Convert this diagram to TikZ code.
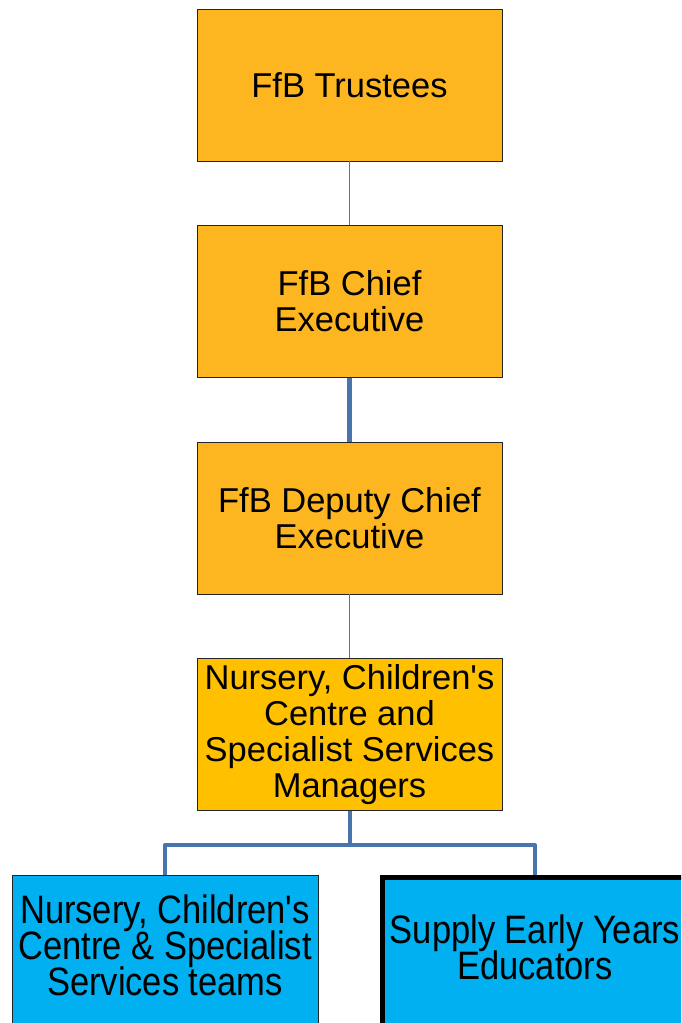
\documentclass[tikz,border=0pt]{standalone}
\usepackage{fontspec}
\newfontfamily\arialfont{Liberation Sans}
\definecolor{ffborange}{HTML}{FDB620}
\definecolor{ffbyellow}{HTML}{FFC000}
\definecolor{ffbblue}{HTML}{00B0F0}
\definecolor{linkblue}{HTML}{4A74AC}
\definecolor{linkgray}{HTML}{707070}
\begin{document}
\begin{tikzpicture}[x=1pt,y=-1pt,
  orgbox/.style={draw=black!85, line width=0.9pt, minimum width=305pt, minimum height=152pt,
    inner sep=0pt, align=center, font=\arialfont\fontsize{34.5}{36}\selectfont},
  thinlink/.style={draw=linkgray, line width=1.4pt},
  bluelink/.style={draw=linkblue, line width=4.5pt}
]
\useasboundingbox (0,0) rectangle (681,1023);
\clip (0,0) rectangle (681,1023);

\node[orgbox, fill=ffborange] (trustees) at (349.5,85) {FfB Trustees};
\node[orgbox, fill=ffborange] (chief) at (349.5,301.5) {FfB Chief\\Executive};
\node[orgbox, fill=ffborange] (deputy) at (349.5,518) {FfB Deputy Chief\\Executive};
\node[orgbox, fill=ffbyellow] (managers) at (349.5,734.5) {Nursery, Children's\\Centre and\\Specialist Services\\Managers};

\node[orgbox, fill=ffbblue, minimum width=306pt, minimum height=152pt] (teams) at (165,951)
  {\raisebox{-7pt}{\scalebox{1}[1.15]{\begin{tabular}{@{}c@{}}Nursery, Children's\\[-4.5pt]Centre \& Specialist\\[-4.5pt]Services teams\end{tabular}}}};
\node[orgbox, fill=ffbblue, draw=black, line width=5pt, minimum width=306pt, minimum height=152pt] (supply) at (535,953)
  {\raisebox{-4pt}{\scalebox{1}[1.15]{\begin{tabular}{@{}c@{}}Supply Early Years\\[-4.5pt]Educators\end{tabular}}}};

\draw[thinlink] (trustees.south) -- (chief.north);
\draw[bluelink] (chief.south) -- (deputy.north);
\draw[thinlink] (deputy.south) -- (managers.north);

\coordinate (split) at (349.5,845);
\draw[bluelink, line width=4pt, line join=round] (managers.south) -- (split);
\draw[bluelink, line width=4pt, line join=round] (teams.north) |- (split) -| (supply.north);
\end{tikzpicture}
\end{document}
